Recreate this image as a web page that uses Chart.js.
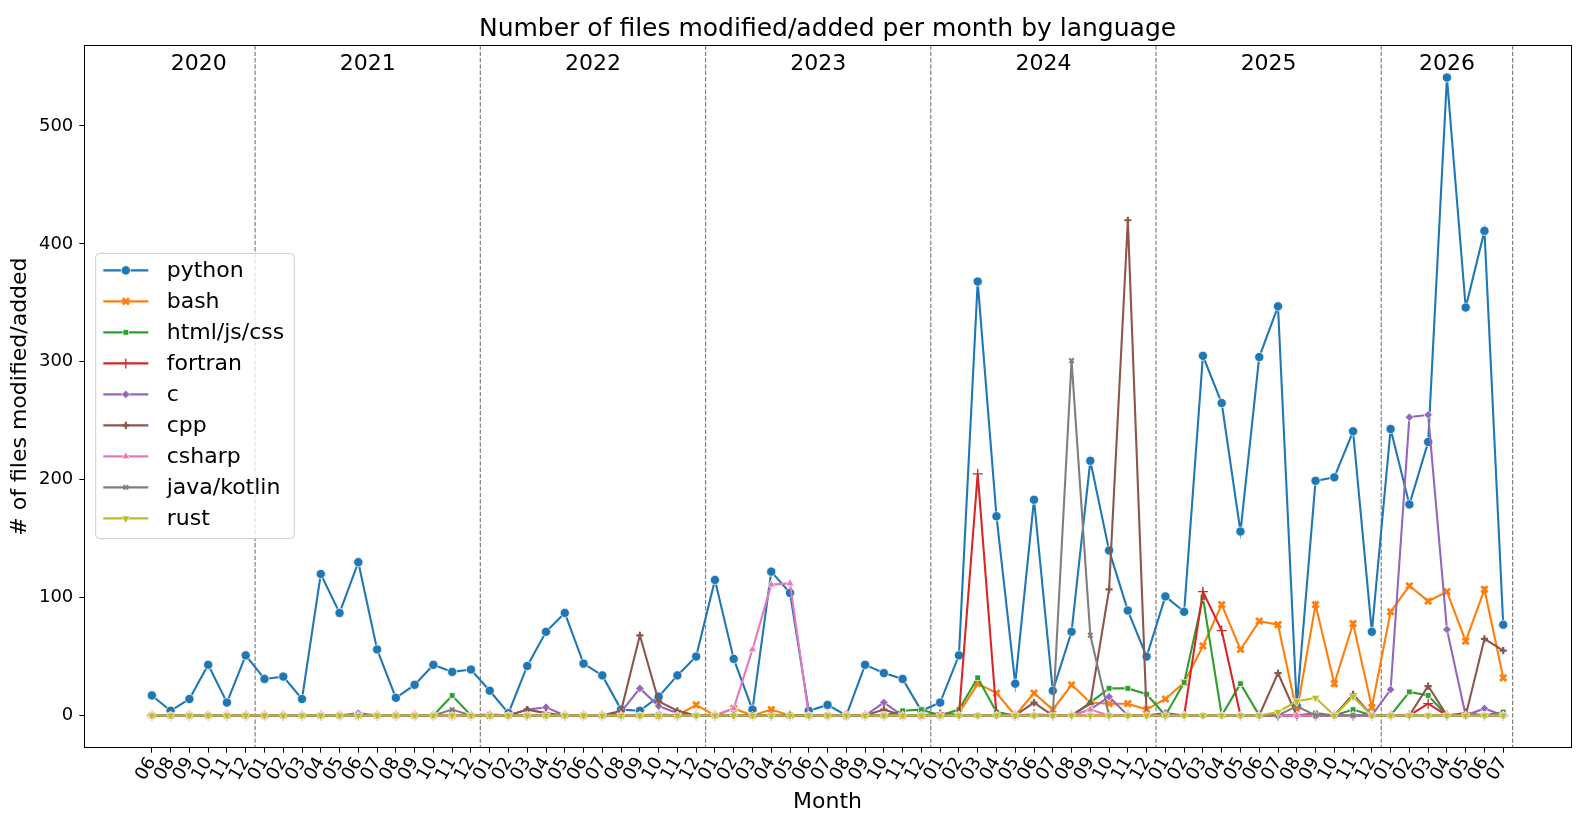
<!DOCTYPE html>
<html>
<head>
<meta charset="utf-8">
<script src="https://cdn.jsdelivr.net/npm/chart.js@4/dist/chart.umd.min.js"></script>
<style>
  html, body { margin: 0; padding: 0; background: #fff; }
  #wrap { width: 1578px; height: 818px; position: relative; }
</style>
</head>
<body>
<div id="wrap"><canvas id="langChart"></canvas></div>
<script>
// Months on the x axis (year-month)
const months = [
    '2020-06', '2020-08', '2020-09', '2020-10', '2020-11', '2020-12',
    '2021-01', '2021-02', '2021-03', '2021-04', '2021-05', '2021-06', '2021-07', '2021-08', '2021-09', '2021-10', '2021-11', '2021-12',
    '2022-01', '2022-02', '2022-03', '2022-04', '2022-05', '2022-06', '2022-07', '2022-08', '2022-09', '2022-10', '2022-11', '2022-12',
    '2023-01', '2023-02', '2023-03', '2023-04', '2023-05', '2023-06', '2023-07', '2023-08', '2023-09', '2023-10', '2023-11', '2023-12',
    '2024-01', '2024-02', '2024-03', '2024-04', '2024-05', '2024-06', '2024-07', '2024-08', '2024-09', '2024-10', '2024-11', '2024-12',
    '2025-01', '2025-02', '2025-03', '2025-04', '2025-05', '2025-06', '2025-07', '2025-08', '2025-09', '2025-10', '2025-11', '2025-12',
    '2026-01', '2026-02', '2026-03', '2026-04', '2026-05', '2026-06', '2026-07'
];

// Files per month, one row per year (2020 starts in June, 2026 ends in July)
const python = [
    17, 4, 14, 43, 11, 51,
    31, 33, 14, 120, 87, 130, 56, 15, 26, 43, 37, 39,
    21, 2, 42, 71, 87, 44, 34, 5, 4, 16, 34, 50,
    115, 48, 5, 122, 104, 4, 9, 0, 43, 36, 31, 4,
    11, 51, 368, 169, 27, 183, 21, 71, 216, 140, 89, 50,
    101, 88, 305, 265, 156, 304, 347, 8, 199, 202, 241, 71,
    243, 179, 232, 541, 346, 411, 77
];
const bash = [
    0, 0, 0, 0, 0, 0,
    0, 0, 0, 0, 0, 0, 0, 0, 0, 0, 0, 0,
    0, 0, 0, 0, 0, 0, 0, 0, 0, 0, 0, 9,
    0, 6, 0, 5, 0, 0, 0, 0, 0, 0, 0, 0,
    0, 2, 27, 19, 0, 19, 5, 26, 11, 10, 10, 5,
    14, 28, 59, 94, 56, 80, 77, 3, 94, 27, 78, 7,
    88, 110, 97, 105, 63, 107, 32
];
const htmlJsCss = [
    0, 0, 0, 0, 0, 0,
    0, 0, 0, 0, 0, 0, 0, 0, 0, 0, 17, 0,
    1, 0, 0, 0, 0, 0, 0, 0, 0, 1, 0, 0,
    0, 0, 0, 0, 0, 0, 0, 0, 0, 0, 4, 5,
    0, 5, 32, 3, 0, 0, 0, 0, 11, 23, 23, 18,
    0, 28, 100, 0, 27, 0, 0, 0, 2, 0, 5, 0,
    0, 20, 17, 0, 0, 0, 3
];
const fortran = [
    0, 0, 0, 0, 0, 0,
    0, 0, 0, 0, 0, 0, 0, 0, 0, 0, 0, 0,
    0, 0, 0, 0, 0, 0, 0, 0, 0, 0, 0, 0,
    0, 0, 0, 0, 0, 0, 0, 0, 0, 0, 0, 0,
    0, 0, 205, 1, 0, 1, 0, 0, 0, 0, 0, 0,
    0, 0, 105, 72, 0, 0, 0, 0, 0, 0, 0, 0,
    0, 0, 10, 0, 2, 0, 0
];
const cLang = [
    0, 0, 0, 0, 0, 0,
    0, 0, 0, 0, 0, 2, 0, 0, 0, 0, 0, 0,
    0, 0, 5, 7, 0, 0, 0, 3, 23, 8, 2, 0,
    0, 0, 0, 0, 0, 0, 0, 0, 0, 11, 0, 0,
    0, 0, 0, 0, 0, 0, 0, 0, 5, 16, 0, 0,
    0, 0, 0, 0, 0, 0, 0, 0, 0, 0, 0, 0,
    22, 253, 255, 73, 0, 6, 0
];
const cpp = [
    0, 0, 0, 0, 0, 0,
    0, 0, 0, 0, 0, 0, 0, 0, 0, 0, 0, 0,
    0, 0, 5, 2, 0, 0, 0, 4, 68, 12, 4, 0,
    0, 0, 0, 0, 0, 0, 0, 0, 0, 5, 0, 0,
    2, 0, 0, 0, 0, 11, 0, 0, 10, 107, 420, 0,
    2, 0, 0, 0, 0, 0, 36, 0, 0, 0, 18, 0,
    0, 0, 25, 0, 0, 65, 55
];
const csharp = [
    0, 0, 0, 0, 0, 0,
    0, 0, 0, 0, 0, 0, 0, 0, 0, 0, 0, 0,
    0, 0, 0, 0, 0, 0, 0, 0, 0, 0, 0, 0,
    0, 6, 56, 111, 112, 0, 0, 0, 0, 0, 0, 0,
    0, 0, 0, 0, 0, 0, 0, 0, 5, 0, 0, 0,
    0, 0, 0, 0, 0, 0, 0, 0, 0, 0, 0, 0,
    0, 0, 0, 0, 0, 0, 0
];
const javaKotlin = [
    0, 0, 0, 0, 0, 0,
    0, 0, 0, 0, 0, 0, 0, 0, 0, 0, 5, 0,
    0, 0, 0, 0, 0, 0, 0, 0, 0, 0, 0, 0,
    0, 0, 0, 0, 0, 0, 0, 0, 0, 0, 0, 0,
    0, 0, 0, 0, 0, 0, 0, 301, 68, 0, 0, 0,
    0, 0, 0, 0, 0, 0, 0, 8, 0, 0, 0, 0,
    0, 0, 0, 0, 0, 0, 0
];
const rust = [
    0, 0, 0, 0, 0, 0,
    0, 0, 0, 0, 0, 0, 0, 0, 0, 0, 0, 0,
    0, 0, 0, 0, 0, 0, 0, 0, 0, 0, 0, 0,
    0, 0, 0, 0, 0, 0, 0, 0, 0, 0, 0, 0,
    0, 0, 0, 0, 0, 0, 0, 0, 0, 0, 0, 0,
    0, 0, 0, 0, 0, 0, 3, 12, 15, 0, 16, 0,
    0, 0, 0, 0, 0, 0, 0
];

const yTicks = [0, 100, 200, 300, 400, 500];

const chartTitle = 'Number of files modified/added per month by language';
const FONT = "'DejaVu Sans', sans-serif";

// series: label, values, colour, marker
const series = [
    { label: 'python', data: python, color: '#1f77b4', style: 'circle', radius: 4.6, filled: true },
    { label: 'bash', data: bash, color: '#ff7f0e', style: 'crossRot', radius: 4.4, filled: false, width: 2.8 },
    { label: 'html/js/css', data: htmlJsCss, color: '#2ca02c', style: 'rect', radius: 4, filled: true },
    { label: 'fortran', data: fortran, color: '#d62728', style: 'cross', radius: 5, filled: false, width: 1.3 },
    { label: 'c', data: cLang, color: '#9467bd', style: 'rectRot', radius: 4.2, filled: true },
    { label: 'cpp', data: cpp, color: '#8c564b', style: 'cross', radius: 3.6, filled: false, width: 2.2 },
    { label: 'csharp', data: csharp, color: '#e377c2', style: 'triangle', radius: 4.6, filled: true },
    { label: 'java/kotlin', data: javaKotlin, color: '#7f7f7f', style: 'crossRot', radius: 3.2, filled: false, width: 2 },
    { label: 'rust', data: rust, color: '#bcbd22', style: 'triangle', radius: 5, filled: true, rotation: 180 }
];

const datasets = series.map((s, k) => ({
    label: s.label,
    data: s.data.map((v, i) => ({ x: i, y: v })),
    borderColor: s.color,
    backgroundColor: s.color,
    borderWidth: 2.1,
    tension: 0,
    order: series.length - k,
    pointStyle: s.style,
    pointRadius: s.radius,
    pointRotation: s.rotation || 0,
    pointBackgroundColor: s.color,
    pointBorderColor: s.filled ? '#ffffff' : s.color,
    pointBorderWidth: s.filled ? 0.7 : s.width
}));

// year groups derived from the month labels
function yearGroups() {
    const groups = [];
    months.forEach((m, i) => {
        const y = m.slice(0, 4);
        const g = groups[groups.length - 1];
        if (g && g.year === y) g.last = i;
        else groups.push({ year: y, first: i, last: i });
    });
    return groups;
}

const decorPlugin = {
    id: 'decor',
    beforeDatasetsDraw(chart) {
        const { ctx, chartArea, scales } = chart;
        ctx.save();
        ctx.strokeStyle = '#808080';
        ctx.lineWidth = 1.2;
        ctx.setLineDash([4.4, 1.9]);
        yearGroups().forEach(g => {
            const x = scales.x.getPixelForValue(g.last + 0.5);
            ctx.beginPath();
            ctx.moveTo(x, chartArea.top);
            ctx.lineTo(x, chartArea.bottom);
            ctx.stroke();
        });
        ctx.restore();
    },
    afterDraw(chart) {
        const { ctx, chartArea, scales } = chart;
        ctx.save();
        ctx.fillStyle = '#000';
        ctx.textAlign = 'center';
        ctx.textBaseline = 'middle';

        // title, centred over the plot area
        ctx.font = '25px ' + FONT;
        ctx.fillText(chartTitle, (chartArea.left + chartArea.right) / 2, 29.5);

        // year labels
        ctx.font = '22px ' + FONT;
        yearGroups().forEach(g => {
            ctx.fillText(g.year, scales.x.getPixelForValue((g.first + g.last) / 2), 64);
        });

        // frame
        ctx.strokeStyle = '#000';
        ctx.lineWidth = 1;
        ctx.strokeRect(Math.round(chartArea.left) + 0.5, Math.round(chartArea.top) + 0.5,
            Math.round(chartArea.right - chartArea.left), Math.round(chartArea.bottom - chartArea.top));

        // legend
        const bx = 95.7, by = 253.4, bw = 198.6, bh = 285.2, r = 4;
        ctx.beginPath();
        ctx.moveTo(bx + r, by);
        ctx.arcTo(bx + bw, by, bx + bw, by + bh, r);
        ctx.arcTo(bx + bw, by + bh, bx, by + bh, r);
        ctx.arcTo(bx, by + bh, bx, by, r);
        ctx.arcTo(bx, by, bx + bw, by, r);
        ctx.closePath();
        ctx.fillStyle = 'rgba(255,255,255,0.8)';
        ctx.fill();
        ctx.strokeStyle = '#cccccc';
        ctx.stroke();

        ctx.font = '22px ' + FONT;
        ctx.textAlign = 'left';
        series.forEach((s, k) => {
            const y = 270.4 + 31 * k;
            ctx.strokeStyle = s.color;
            ctx.lineWidth = 2.1;
            ctx.beginPath();
            ctx.moveTo(103.3, y);
            ctx.lineTo(148.3, y);
            ctx.stroke();
            ctx.fillStyle = s.color;
            ctx.strokeStyle = s.filled ? '#ffffff' : s.color;
            ctx.lineWidth = s.filled ? 0.7 : s.width;
            Chart.helpers.drawPoint(ctx, {
                pointStyle: s.style, radius: s.radius, rotation: s.rotation || 0,
                borderWidth: s.filled ? 0.7 : s.width
            }, 125.8, y);
            ctx.fillStyle = '#000';
            ctx.fillText(s.label, 166.7, y + 1);
        });
        ctx.restore();
    }
};

document.addEventListener('DOMContentLoaded', function() {
    const ctx = document.getElementById('langChart').getContext('2d');
    new Chart(ctx, {
        type: 'line',
        data: { datasets: datasets },
        options: {
            responsive: true,
            maintainAspectRatio: false,
            animation: false,
            devicePixelRatio: 1,
            layout: { padding: { left: 0, right: 6, top: 45.4, bottom: 0 } },
            plugins: {
                legend: { display: false },
                tooltip: { enabled: false },
                title: { display: false }
            },
            scales: {
                x: {
                    type: 'linear',
                    min: -3.6,
                    max: 75.6,
                    afterBuildTicks: function(scale) {
                        scale.ticks = months.map((m, i) => ({ value: i }));
                    },
                    afterFit: function(scale) { scale.height = 70.3; },
                    ticks: {
                        autoSkip: false,
                        minRotation: 60,
                        maxRotation: 60,
                        padding: 1,
                        color: '#000',
                        font: { family: FONT, size: 18 },
                        callback: function(value) {
                            return months[value] ? months[value].slice(5) : '';
                        }
                    },
                    grid: { drawOnChartArea: false, drawTicks: true, tickLength: 5, color: '#000' },
                    border: { display: true, color: '#000', width: 1 },
                    title: {
                        display: true,
                        text: 'Month',
                        color: '#000',
                        font: { family: FONT, size: 22 },
                        padding: { top: 0, bottom: 3 }
                    }
                },
                y: {
                    type: 'linear',
                    min: -27.3,
                    max: 568.3,
                    afterBuildTicks: function(scale) {
                        scale.ticks = yTicks.map(v => ({ value: v }));
                    },
                    afterFit: function(scale) { scale.width = 84.3; },
                    ticks: {
                        padding: 6,
                        color: '#000',
                        font: { family: FONT, size: 18 }
                    },
                    grid: { drawOnChartArea: false, drawTicks: true, tickLength: 5, color: '#000' },
                    border: { display: true, color: '#000', width: 1 },
                    title: {
                        display: true,
                        text: '# of files modified/added',
                        color: '#000',
                        font: { family: FONT, size: 22 },
                        padding: { top: 7, bottom: 0 }
                    }
                }
            }
        },
        plugins: [decorPlugin]
    });
});
</script>
</body>
</html>
